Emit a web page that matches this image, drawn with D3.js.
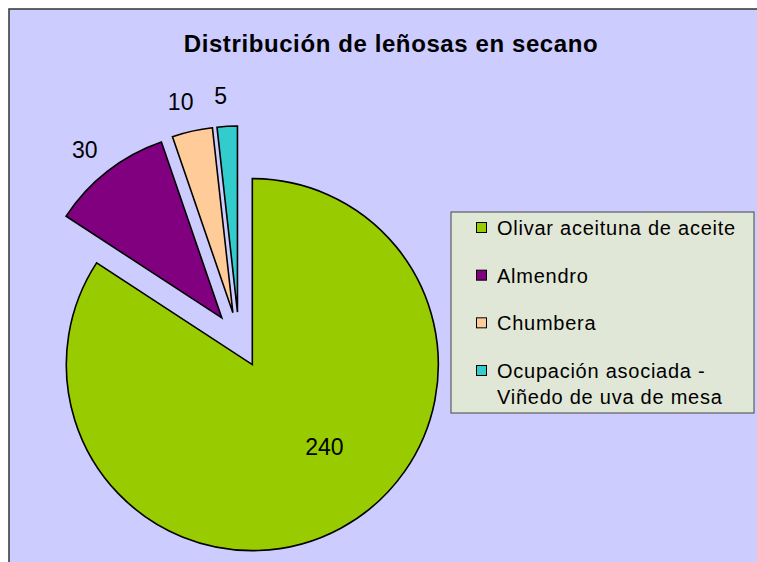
<!DOCTYPE html>
<html lang="es">
<head>
  <meta charset="UTF-8">
  <script src="https://d3js.org/d3.v7.min.js"></script>
  <style>
    body { margin: 0; background: #fff; }
    text { font-family: "Liberation Sans", Arial, sans-serif; fill: #000; }
  </style>
</head>
<body>
  <script>
    const categories = ["Olivar aceituna de aceite", "Almendro", "Chumbera", "Ocupación asociada - Viñedo de uva de mesa"];
    const legendLines = [["Olivar aceituna de aceite"], ["Almendro"], ["Chumbera"], ["Ocupación asociada -", "Viñedo de uva de mesa"]];
    const values = [240, 30, 10, 5];
    const colors = ["#99cc00", "#800080", "#ffcc99", "#33cccc"];
    const title = "Distribución de leñosas en secano";

    const width = 757, height = 562;
    const svg = d3.select("body").append("svg").attr("width", width).attr("height", height);

    // chart area
    svg.append("rect")
      .attr("x", 9).attr("y", 9).attr("width", width + 10).attr("height", height + 10)
      .attr("fill", "#ccccff").attr("stroke", "#333").attr("stroke-width", 1.5);

    svg.append("text")
      .attr("x", 391).attr("y", 52)
      .attr("text-anchor", "middle")
      .style("font-size", "24px").style("font-weight", "bold")
      .style("letter-spacing", "0.6px")
      .text(title);

    const cx = 239, cy = 340, r = 186, explode = 28;
    const pie = d3.pie().sort(null).value(d => d)(values);
    const arc = d3.arc().innerRadius(0).outerRadius(r);
    const mid = d => (d.startAngle + d.endAngle) / 2;

    const g = svg.append("g").attr("transform", `translate(${cx},${cy})`);

    g.selectAll("path.slice")
      .data(pie)
      .join("path")
      .attr("class", "slice")
      .attr("transform", d => `translate(${explode * Math.sin(mid(d))},${-explode * Math.cos(mid(d))})`)
      .attr("d", arc)
      .attr("fill", (d, i) => colors[i])
      .attr("stroke", "#000").attr("stroke-width", 1.6)
      .attr("stroke-linejoin", "miter");

    // data labels: small slices outside, big one inside
    const labelPos = d => {
      if (d.endAngle - d.startAngle > Math.PI) {
        const a = mid(d) - 0.22;
        return [explode * Math.sin(mid(d)) + 0.59 * r * Math.sin(a),
                -explode * Math.cos(mid(d)) - 0.59 * r * Math.cos(a)];
      }
      const a = mid(d) - 0.02;
      return [245 * Math.sin(a), -245 * Math.cos(a)];
    };

    g.selectAll("text.lbl")
      .data(pie)
      .join("text")
      .attr("class", "lbl")
      .attr("text-anchor", "middle")
      .attr("dominant-baseline", "central")
      .style("font-size", "23px")
      .attr("x", d => labelPos(d)[0])
      .attr("y", d => labelPos(d)[1])
      .text(d => d.data);

    // legend
    const lx = 451, ly = 212, lw = 303, lh = 201;
    const legend = svg.append("g");
    legend.append("rect")
      .attr("x", lx).attr("y", ly).attr("width", lw).attr("height", lh)
      .attr("fill", "#e1e7d6").attr("stroke", "#444").attr("stroke-width", 1);

    const rowY = d3.scalePoint().domain(categories).range([228, 371]);
    const item = legend.selectAll("g.item")
      .data(categories)
      .join("g")
      .attr("class", "item")
      .attr("transform", d => `translate(0,${rowY(d)})`);

    item.append("rect")
      .attr("x", 476.5).attr("y", -5.5).attr("width", 10).attr("height", 10)
      .attr("fill", (d, i) => colors[i]).attr("stroke", "#000").attr("stroke-width", 1);

    item.each(function (d, i) {
      const t = d3.select(this).append("text")
        .attr("x", 497).attr("y", 0)
        .style("font-size", "20px")
        .style("letter-spacing", "0.75px");
      legendLines[i].forEach((line, k) => {
        t.append("tspan").attr("x", 497).attr("y", k * 26).attr("dy", "0.35em").text(line);
      });
    });
  </script>
</body>
</html>
